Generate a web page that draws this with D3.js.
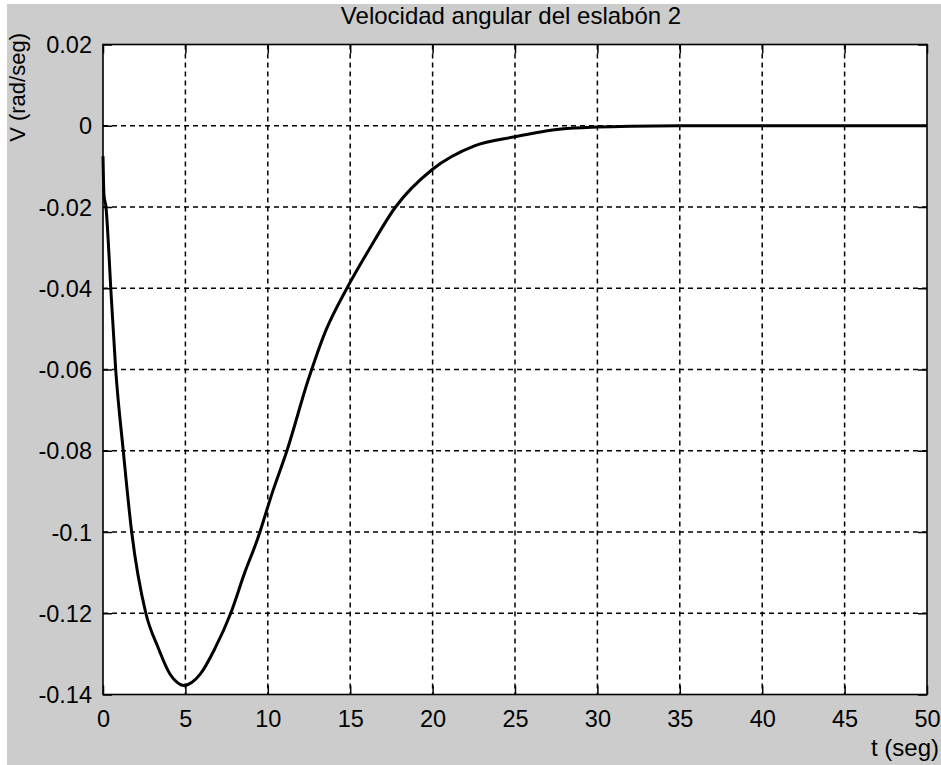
<!DOCTYPE html>
<html>
<head>
<meta charset="utf-8">
<style>
  body { margin: 0; background: #fff; }
  svg text { font-family: "Liberation Sans", Arial, sans-serif; fill: #000; }
</style>
</head>
<body>
<svg width="941" height="765"></svg>
<script src="https://d3js.org/d3.v7.min.js"></script>
<script>

// velocidad angular del eslabon 2
var tiempo = [0, 0.06, 0.18, 0.38, 0.47, 0.77, 1.23, 1.74, 2.6, 3.36, 4.07, 4.5, 4.9, 5.4, 5.9,
              6.8, 7.75, 8.6, 9.33, 10.3, 11.16, 12.45, 13.5, 14.8, 16.2, 17.75, 20, 22.5, 25,
              27.8, 30, 32, 35, 40, 45, 50];
var velocidad = [-0.0075, -0.017, -0.02, -0.033, -0.04, -0.06, -0.08, -0.1, -0.12, -0.1286, -0.135,
                 -0.137, -0.1378, -0.137, -0.135, -0.1286, -0.12, -0.11, -0.1023, -0.09, -0.08,
                 -0.0626, -0.0506, -0.04, -0.0301, -0.02, -0.0107, -0.005, -0.0027, -0.0008,
                 -0.0003, -0.0001, 0, 0, 0, 0];

var xTicks = [0, 5, 10, 15, 20, 25, 30, 35, 40, 45, 50];
var yTicks = [0.02, 0, -0.02, -0.04, -0.06, -0.08, -0.1, -0.12, -0.14];

var titulo = "Velocidad angular del eslabón 2",
    etiquetaX = "t (seg)",
    etiquetaY = "V (rad/seg)";

var svg = d3.select("svg"),
    W = +svg.attr("width"),
    H = +svg.attr("height"),
    margin = {top: 44.5, right: 14, bottom: 70.5, left: 103},
    width = W - margin.left - margin.right,
    height = H - margin.top - margin.bottom;

// figure background (gray with thin white strip top/left)
svg.append("rect").attr("x", 7).attr("y", 4).attr("width", W - 7).attr("height", H - 4)
    .attr("fill", "#cccccc");

var g = svg.append("g").attr("transform", "translate(" + margin.left + "," + margin.top + ")");

var x = d3.scaleLinear().domain([0, 50]).range([0, width]);
var y = d3.scaleLinear().domain([-0.14, 0.02]).range([height, 0]);

g.append("rect").attr("width", width).attr("height", height).attr("fill", "#fff");

// grid
g.append("g").selectAll("line").data(xTicks.slice(1, -1)).join("line")
    .attr("x1", function(d) { return x(d); }).attr("x2", function(d) { return x(d); })
    .attr("y1", 0).attr("y2", height)
    .attr("stroke", "#000").attr("stroke-width", 1.5).attr("stroke-dasharray", "5,4");
g.append("g").selectAll("line").data(yTicks.slice(1, -1)).join("line")
    .attr("y1", function(d) { return y(d); }).attr("y2", function(d) { return y(d); })
    .attr("x1", 0).attr("x2", width)
    .attr("stroke", "#000").attr("stroke-width", 1.5).attr("stroke-dasharray", "5,4");

// axes with inward ticks, plain hyphen for negatives like the original
var fmt = function(d) { return String(+d.toFixed(2)); };

var ax = g.append("g").attr("transform", "translate(0," + height + ")")
    .call(d3.axisBottom(x).tickValues(xTicks).tickSizeInner(-9).tickSizeOuter(0).tickPadding(16).tickFormat(fmt));
var axTop = g.append("g")
    .call(d3.axisTop(x).tickValues(xTicks).tickSizeInner(-9).tickSizeOuter(0).tickFormat(""));
var ay = g.append("g")
    .call(d3.axisLeft(y).tickValues(yTicks).tickSizeInner(-9).tickSizeOuter(0).tickPadding(11).tickFormat(fmt));
var ayR = g.append("g").attr("transform", "translate(" + width + ",0)")
    .call(d3.axisRight(y).tickValues(yTicks).tickSizeInner(-9).tickSizeOuter(0).tickFormat(""));

[ax, axTop, ay, ayR].forEach(function(a) {
    a.select(".domain").remove();
    a.selectAll(".tick line").attr("stroke", "#000").attr("stroke-width", 1.5);
    a.selectAll("text").style("font-size", "23.5px").attr("fill", "#000");
});
ay.selectAll("text").attr("dy", "0.35em");

g.append("rect").attr("width", width).attr("height", height)
    .attr("fill", "none").attr("stroke", "#000").attr("stroke-width", 1.6);

// curve
var line = d3.line()
    .x(function(d, i) { return x(tiempo[i]); })
    .y(function(d) { return y(d); })
    .curve(d3.curveMonotoneX);

g.append("path")
    .datum(velocidad)
    .attr("fill", "none")
    .attr("stroke", "#000")
    .attr("stroke-width", 3)
    .attr("stroke-linejoin", "round")
    .attr("d", line);

// labels
svg.append("text")
    .attr("x", 511).attr("y", 24)
    .attr("text-anchor", "middle")
    .style("font-size", "24px")
    .text(titulo);

svg.append("text")
    .attr("x", 939).attr("y", 756)
    .attr("text-anchor", "end")
    .style("font-size", "24px")
    .text(etiquetaX);

svg.append("text")
    .attr("transform", "translate(25,33) rotate(-90)")
    .attr("text-anchor", "end")
    .style("font-size", "22px")
    .text(etiquetaY);

</script>
</body>
</html>
